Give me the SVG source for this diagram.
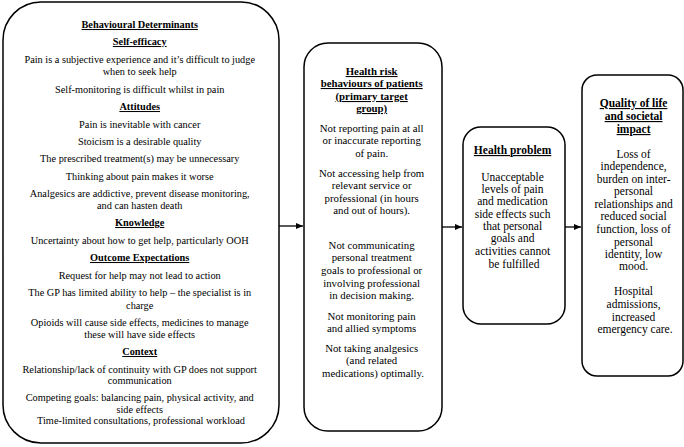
<svg xmlns="http://www.w3.org/2000/svg" width="684" height="447" viewBox="0 0 684 447">
<defs>
<marker id="ah" markerWidth="8" markerHeight="8" refX="7" refY="4" orient="auto" markerUnits="userSpaceOnUse">
<path d="M0,1 L7,4 L0,7 Z" fill="#000"/>
</marker>
</defs>
<style>
.box{fill:#fff;stroke:#000;stroke-width:1.5}
text{font-family:"Liberation Serif","Times New Roman",serif;fill:#000;text-anchor:middle}
.b1{font-size:10.3px}
.b2{font-size:10.8px}
.b3{font-size:11.5px}
.h{font-weight:bold;text-decoration:underline}
.c{stroke:#000;stroke-width:1.3;fill:none}
</style>
<rect width="684" height="447" fill="#fff"/>
<g id="behavioural-determinants">
<rect class="box" x="3" y="2" width="276" height="441" rx="38" ry="38"/>
<text class="b1" x="141">
<tspan class="h" x="141" y="28">Behavioural Determinants</tspan>
<tspan class="h" x="141" y="45">Self-efficacy</tspan>
<tspan x="141" y="63">Pain is a subjective experience and it’s difficult to judge</tspan>
<tspan x="141" y="75">when to seek help</tspan>
<tspan x="141" y="93">Self-monitoring is difficult whilst in pain</tspan>
<tspan class="h" x="141" y="110">Attitudes</tspan>
<tspan x="141" y="128">Pain is inevitable with cancer</tspan>
<tspan x="141" y="145">Stoicism is a desirable quality</tspan>
<tspan x="141" y="162">The prescribed treatment(s) may be unnecessary</tspan>
<tspan x="141" y="180">Thinking about pain makes it worse</tspan>
<tspan x="141" y="197">Analgesics are addictive, prevent disease monitoring,</tspan>
<tspan x="141" y="209">and can hasten death</tspan>
<tspan class="h" x="141" y="226">Knowledge</tspan>
<tspan x="141" y="244">Uncertainty about how to get help, particularly OOH</tspan>
<tspan class="h" x="141" y="261">Outcome Expectations</tspan>
<tspan x="141" y="279">Request for help may not lead to action</tspan>
<tspan x="141" y="296">The GP has limited ability to help – the specialist is in</tspan>
<tspan x="141" y="309">charge</tspan>
<tspan x="141" y="326">Opioids will cause side effects, medicines to manage</tspan>
<tspan x="141" y="338">these will have side effects</tspan>
<tspan class="h" x="141" y="355">Context</tspan>
<tspan x="141" y="373">Relationship/lack of continuity with GP does not support</tspan>
<tspan x="141" y="384">communication</tspan>
<tspan x="141" y="401">Competing goals: balancing pain, physical activity, and</tspan>
<tspan x="141" y="413">side effects</tspan>
<tspan x="141" y="424">Time-limited consultations, professional workload</tspan>
</text>
</g>
<g id="health-risk-behaviours">
<rect class="box" x="304" y="43" width="138" height="388" rx="24" ry="24"/>
<text class="b2" x="373">
<tspan class="h" x="373" y="75">Health risk</tspan>
<tspan class="h" x="373" y="87">behaviours of patients</tspan>
<tspan class="h" x="373" y="100">(primary target</tspan>
<tspan class="h" x="373" y="112">group)</tspan>
<tspan x="373" y="132">Not reporting pain at all</tspan>
<tspan x="373" y="144">or inaccurate reporting</tspan>
<tspan x="373" y="157">of pain.</tspan>
<tspan x="373" y="177">Not accessing help from</tspan>
<tspan x="373" y="189">relevant service or</tspan>
<tspan x="373" y="202">professional (in hours</tspan>
<tspan x="373" y="214">and out of hours).</tspan>
<tspan x="373" y="249">Not communicating</tspan>
<tspan x="373" y="261">personal treatment</tspan>
<tspan x="373" y="274">goals to professional or</tspan>
<tspan x="373" y="287">involving professional</tspan>
<tspan x="373" y="299">in decision making.</tspan>
<tspan x="373" y="320">Not monitoring pain</tspan>
<tspan x="373" y="332">and allied symptoms</tspan>
<tspan x="373" y="352">Not taking analgesics</tspan>
<tspan x="373" y="364">(and related</tspan>
<tspan x="373" y="377">medications) optimally.</tspan>
</text>
</g>
<g id="health-problem">
<rect class="box" x="463" y="127" width="102" height="197" rx="18" ry="18"/>
<text class="b3" x="514">
<tspan class="h" x="514" y="154">Health problem</tspan>
<tspan x="514" y="181">Unacceptable</tspan>
<tspan x="514" y="193">levels of pain</tspan>
<tspan x="514" y="205">and medication</tspan>
<tspan x="514" y="218">side effects such</tspan>
<tspan x="514" y="230">that personal</tspan>
<tspan x="514" y="242">goals and</tspan>
<tspan x="514" y="255">activities cannot</tspan>
<tspan x="514" y="268">be fulfilled</tspan>
</text>
</g>
<g id="quality-of-life">
<rect class="box" x="582" y="75" width="101" height="301" rx="15" ry="15"/>
<text class="b3" x="635">
<tspan class="h" x="635" y="107">Quality of life</tspan>
<tspan class="h" x="635" y="120">and societal</tspan>
<tspan class="h" x="635" y="133">impact</tspan>
<tspan x="635" y="158">Loss of</tspan>
<tspan x="635" y="170">independence,</tspan>
<tspan x="635" y="183">burden on inter-</tspan>
<tspan x="635" y="195">personal</tspan>
<tspan x="635" y="208">relationships and</tspan>
<tspan x="635" y="220">reduced social</tspan>
<tspan x="635" y="233">function, loss of</tspan>
<tspan x="635" y="246">personal</tspan>
<tspan x="635" y="258">identity, low</tspan>
<tspan x="635" y="270">mood.</tspan>
<tspan x="635" y="295">Hospital</tspan>
<tspan x="635" y="308">admissions,</tspan>
<tspan x="635" y="321">increased</tspan>
<tspan x="635" y="333">emergency care.</tspan>
</text>
</g>
<g id="connectors">
<line class="c" x1="279" y1="226" x2="303" y2="226" marker-end="url(#ah)"/>
<line class="c" x1="442" y1="227" x2="462" y2="227" marker-end="url(#ah)"/>
<line class="c" x1="565" y1="227" x2="581" y2="227" marker-end="url(#ah)"/>
</g>
</svg>
